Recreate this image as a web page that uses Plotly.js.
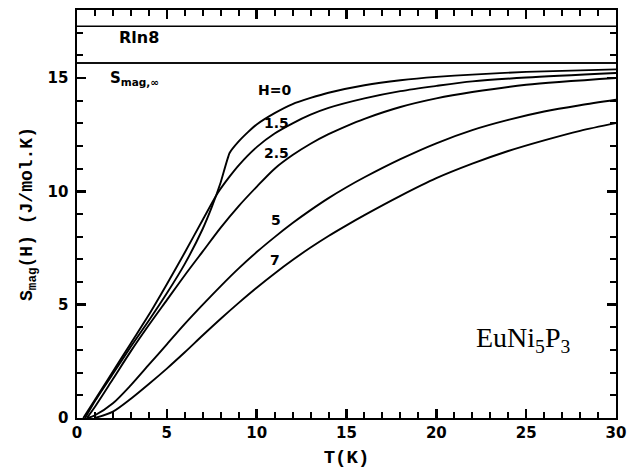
<!DOCTYPE html>
<html><head><meta charset="utf-8">
<script src="https://cdn.plot.ly/plotly-3.0.1.min.js"></script>
<style>html,body{margin:0;padding:0;background:#fff}#chart{width:628px;height:473px}</style>
</head><body><div id="chart"></div>
<script>
// Magnetic entropy S_mag(H) of EuNi5P3 vs T, for fields H (T)
const fieldLabels = ["H=0", "1.5", "2.5", "5", "7"];
const T_H0 = [0.45,1,2,3,4,5,6,7,7.5,8,8.5,9,9.5,10,11,12,13,14,16,18,20,22,25,30];
const S_H0 = [0,0.75,1.95,3.15,4.3,5.5,6.8,8.35,9.3,10.4,11.7,12.2,12.6,12.95,13.45,13.85,14.12,14.35,14.68,14.9,15.05,15.15,15.27,15.38];
const T_H15 = [0.35,1,2,3,4,5,6,7,7.85,8.5,9,10,11,12,13,14,16,18,20,22,25,30];
const S_H15 = [0,0.8,2.05,3.3,4.55,5.9,7.3,8.75,9.95,10.66,11.15,11.95,12.55,13.0,13.38,13.68,14.1,14.42,14.65,14.85,15.02,15.22];
const T_H25 = [0.55,1,2,3,4,5,6,7,8,9,10,11,12,13,14,15,16,18,20,22,25,30];
const S_H25 = [0,0.5,1.72,2.95,4.1,5.2,6.3,7.35,8.4,9.35,10.2,11.0,11.6,12.1,12.52,12.88,13.2,13.72,14.1,14.38,14.7,15.0];
const T_H5 = [0.6,1,2,3,4,5,6,7,8,9,10,11,12,13,14,15,16,18,20,22,24,26,28,30];
const S_H5 = [0,0.12,0.65,1.45,2.35,3.25,4.15,5.0,5.82,6.6,7.32,7.98,8.6,9.17,9.7,10.18,10.62,11.42,12.12,12.7,13.15,13.52,13.8,14.04];
const T_H7 = [1,2,3,4,5,6,7,8,9,10,11,12,13,14,15,16,18,20,22,24,26,28,30];
const S_H7 = [0,0.28,0.85,1.5,2.18,2.9,3.65,4.38,5.08,5.75,6.38,6.97,7.52,8.03,8.5,8.95,9.8,10.58,11.22,11.78,12.25,12.67,13.01];
const T_ref = [0, 30];
const S_Rln8 = 8.314 * Math.log(8);
const S_inf = 15.66;

const line = {color:'#000', width:1.9, shape:'spline', smoothing:0.8};
const traces = [
  {x:T_H0, y:S_H0, mode:'lines', line:Object.assign({}, line, {smoothing:0.5})},
  {x:T_H15, y:S_H15, mode:'lines', line:line},
  {x:T_H25, y:S_H25, mode:'lines', line:line},
  {x:T_H5, y:S_H5, mode:'lines', line:line},
  {x:T_H7, y:S_H7, mode:'lines', line:line},
  {x:T_ref, y:[S_Rln8,S_Rln8], mode:'lines', line:{color:'#000', width:1.5}},
  {x:T_ref, y:[S_inf,S_inf], mode:'lines', line:{color:'#000', width:1.5}},
  // same reference line on the overlaid minor-tick axes
  {x:T_ref, y:[S_inf,S_inf], mode:'lines', xaxis:'x2', yaxis:'y2', line:{color:'#000', width:1.5}}
];
const lblFont = {family:'DejaVu Sans', size:14, color:'#000', weight:'bold'};
const labelPos = [[11.0,14.45],[11.1,13.0],[11.1,11.68],[11.1,8.75],[11.0,6.99]];
const annotations = fieldLabels.map((t,i)=>({x:labelPos[i][0], y:labelPos[i][1], text:t, showarrow:false, font:lblFont, xanchor:'center', yanchor:'middle'}));
annotations.push({x:2.2, y:16.78, text:'Rln8', showarrow:false, font:Object.assign({}, lblFont, {size:16}), xanchor:'left', yanchor:'middle'});
annotations.push({x:1.75, y:15.0, text:'S<sub>mag,∞</sub>', showarrow:false, font:Object.assign({}, lblFont, {size:15}), xanchor:'left', yanchor:'middle'});
annotations.push({x:24.8, y:3.45, text:'EuNi<sub>5</sub>P<sub>3</sub>', showarrow:false, font:{family:'Liberation Serif, serif', size:28, color:'#000'}, xanchor:'center', yanchor:'middle'});

const axBase = {showline:true, linecolor:'#000', linewidth:1.6, mirror:'allticks', ticks:'inside', ticklen:9, tickwidth:2.5, tickcolor:'#000', showgrid:false, zeroline:false,
  tickmode:'linear', tick0:0, dtick:5,
  tickfont:{family:'DejaVu Sans', size:15, color:'#000', weight:'bold'}};
const minorAx = {showline:true, linecolor:'#000', linewidth:1.6, mirror:'allticks', ticks:'inside', ticklen:6, tickwidth:2, tickcolor:'#000',
  showgrid:false, zeroline:false, showticklabels:false, tickmode:'linear', tick0:0, dtick:1};
const layout = {
  width:628, height:473, margin:{l:77, r:12, t:10, b:55},
  paper_bgcolor:'#fff', plot_bgcolor:'#fff', showlegend:false,
  xaxis:Object.assign({}, axBase, {range:[0,30],
    title:{text:'T(K)', standoff:9, font:{family:'Liberation Mono, monospace', size:19, color:'#000', weight:'bold'}}}),
  yaxis:Object.assign({}, axBase, {range:[0,18], ticklabelstandoff:4,
    title:{text:'S<sub>mag</sub>(H) (J/mol.K)', standoff:10, font:{family:'Liberation Mono, monospace', size:18, color:'#000', weight:'bold'}}}),
  xaxis2:Object.assign({}, minorAx, {range:[0,30], overlaying:'x', anchor:'y2', side:'bottom'}),
  yaxis2:Object.assign({}, minorAx, {range:[0,18], overlaying:'y', anchor:'x2', side:'left'}),
  annotations:annotations
};
Plotly.newPlot('chart', traces, layout, {staticPlot:true});
</script></body></html>
